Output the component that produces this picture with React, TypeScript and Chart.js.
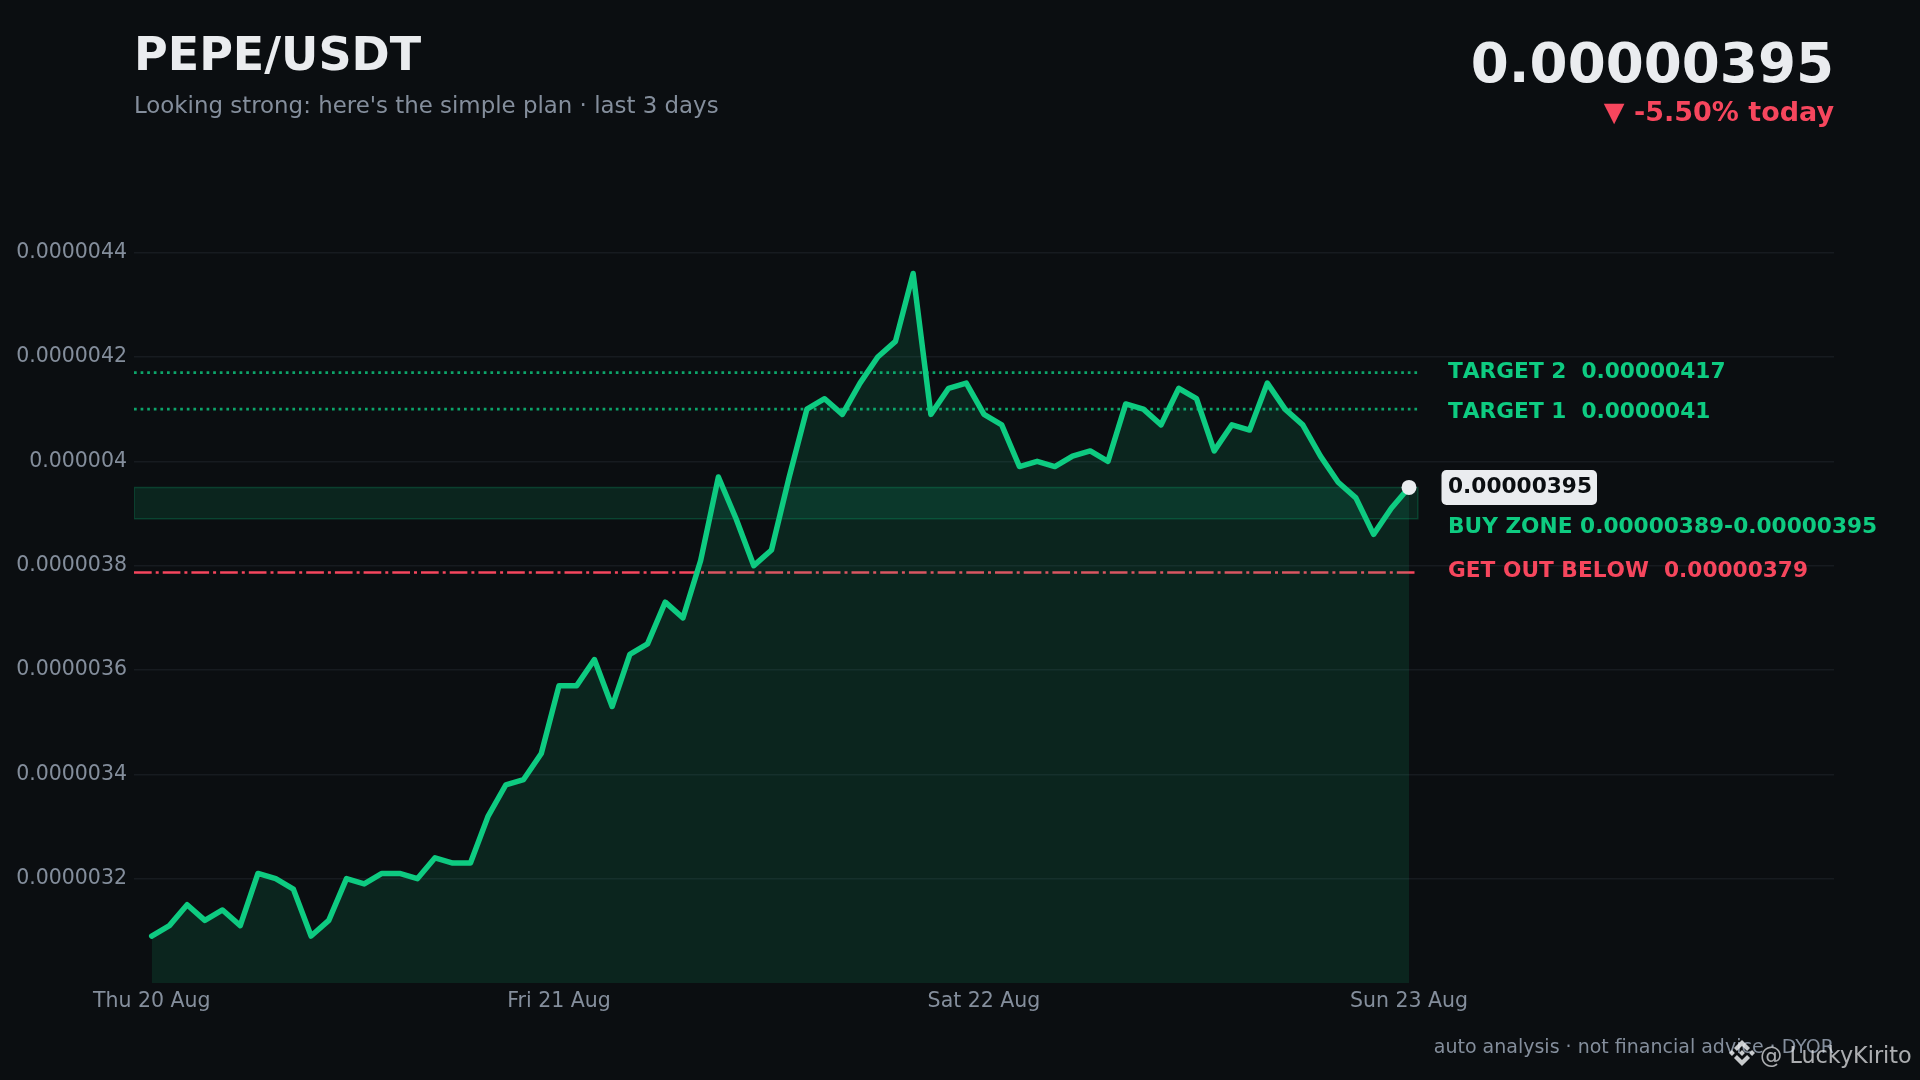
import React, { useEffect, useRef } from "react";
import { Chart, registerables } from "chart.js";

Chart.register(...registerables);

const priceValues = [
  0.00000309, 0.00000311, 0.00000315, 0.00000312, 0.00000314, 0.00000311, 0.00000321, 0.0000032,
  0.00000318, 0.00000309, 0.00000312, 0.0000032, 0.00000319, 0.00000321, 0.00000321, 0.0000032,
  0.00000324, 0.00000323, 0.00000323, 0.00000332, 0.00000338, 0.00000339, 0.00000344, 0.00000357,
  0.00000357, 0.00000362, 0.00000353, 0.00000363, 0.00000365, 0.00000373, 0.0000037, 0.00000381,
  0.00000397, 0.00000389, 0.0000038, 0.00000383, 0.00000397, 0.0000041, 0.00000412, 0.00000409,
  0.00000415, 0.0000042, 0.00000423, 0.00000436, 0.00000409, 0.00000414, 0.00000415, 0.00000409,
  0.00000407, 0.00000399, 0.000004, 0.00000399, 0.00000401, 0.00000402, 0.000004, 0.00000411,
  0.0000041, 0.00000407, 0.00000414, 0.00000412, 0.00000402, 0.00000407, 0.00000406, 0.00000415,
  0.0000041, 0.00000407, 0.00000401, 0.00000396, 0.00000393, 0.00000386, 0.00000391, 0.00000395,
];

const xTickIndexes = [0, 23, 47, 71];
const xTickLabels = ["Thu 20 Aug", "Fri 21 Aug", "Sat 22 Aug", "Sun 23 Aug"];
const yTickValues = [0.0000032, 0.0000034, 0.0000036, 0.0000038, 0.000004, 0.0000042, 0.0000044];
const yTickLabels = ["0.0000032", "0.0000034", "0.0000036", "0.0000038", "0.000004", "0.0000042", "0.0000044"];

const target1 = 0.0000041;
const target2 = 0.00000417;
const stopLevel = 0.000003787;
const zoneLow = 0.00000389;
const zoneHigh = 0.00000395;

const xMin = -1;
const xMax = 95;
const levelEnd = 71.5;
const yMin = 0.000003;
const yMax = 0.0000045;

const BG = "#0b0e11";
const GREEN = "#0ecb81";
const RED = "#f6465d";
const TEXT = "#eaecef";
const MUTED = "#848e9c";
const FONT = "'DejaVu Sans'";

const titleText = "PEPE/USDT";
const subtitleText = "Looking strong: here's the simple plan · last 3 days";
const priceText = "0.00000395";
const changeText = "▼ -5.50% today";
const target2Text = "TARGET 2  0.00000417";
const target1Text = "TARGET 1  0.0000041";
const zoneText = "BUY ZONE 0.00000389-0.00000395";
const stopText = "GET OUT BELOW  0.00000379";
const footerText = "auto analysis · not financial advice · DYOR";
const watermarkText = "@ LuckyKirito";

function drawBinanceLogo(ctx: CanvasRenderingContext2D, x: number, y: number, size: number, color: string) {
  const k = size / 126;
  const shapes = [
    [38.5, 53, 63, 28.6, 87.6, 53, 101.9, 38.7, 63, 0, 24.2, 38.7],
    [0, 63, 14.3, 48.7, 28.6, 63, 14.3, 77.3],
    [48.7, 63, 63, 48.7, 77.3, 63, 63, 77.3],
    [97.4, 63, 111.7, 48.7, 126, 63, 111.7, 77.3],
    [38.5, 73, 63, 97.4, 87.6, 73, 101.9, 87.3, 63, 126, 24.2, 87.3],
  ];
  ctx.fillStyle = color;
  for (const s of shapes) {
    ctx.beginPath();
    for (let i = 0; i < s.length; i += 2) {
      const px = x + s[i] * k;
      const py = y + s[i + 1] * k;
      if (i === 0) ctx.moveTo(px, py);
      else ctx.lineTo(px, py);
    }
    ctx.closePath();
    ctx.fill();
  }
}

const overlayPlugin = {
  id: "overlay",
  afterDraw(chart: any) {
    const { ctx, scales } = chart;
    const labelX = scales.x.getPixelForValue(71) + 39;
    const yPx = (v: number) => scales.y.getPixelForValue(v);
    const text = (s: string, x: number, y: number, font: string, color: string, align: CanvasTextAlign = "left") => {
      ctx.font = font;
      ctx.fillStyle = color;
      ctx.textAlign = align;
      ctx.textBaseline = "alphabetic";
      ctx.fillText(s, x, y);
    };
    ctx.save();
    text(titleText, 134, 70, `bold 46px ${FONT}`, TEXT);
    text(subtitleText, 134, 113, `22.9px ${FONT}`, MUTED);
    text(priceText, 1834, 82, `bold 54.7px ${FONT}`, TEXT, "right");
    text(changeText, 1834, 121, `bold 27px ${FONT}`, RED, "right");

    ctx.fontKerning = "none";
    const lf = `bold 21.7px ${FONT}`;
    text(target2Text, labelX, yPx(target2) + 5.3, lf, GREEN);
    text(target1Text, labelX, yPx(target1) + 8.5, lf, GREEN);

    const by = yPx(zoneHigh);
    ctx.font = lf;
    ctx.fillStyle = TEXT;
    ctx.beginPath();
    ctx.roundRect(labelX - 6.5, by - 17.5, 155.5, 35, 5);
    ctx.fill();
    text(priceText, labelX, by + 5.3, lf, BG);

    text(zoneText, labelX, yPx(zoneLow) + 14, lf, GREEN);
    text(stopText, labelX, yPx(stopLevel) + 4.5, lf, RED);
    ctx.fontKerning = "auto";

    text(footerText, 1834, 1053, `19px ${FONT}`, MUTED, "right");
    drawBinanceLogo(ctx, 1729, 1040, 26, "rgba(234,236,239,0.85)");
    text(watermarkText, 1760, 1063, `22.3px ${FONT}`, "rgba(234,236,239,0.72)");
    ctx.restore();
  },
};

export default function App() {
  const ref = useRef<HTMLCanvasElement | null>(null);

  useEffect(() => {
    if (!ref.current) return;
    const level = (v: number) => [
      { x: xMin, y: v },
      { x: levelEnd, y: v },
    ];
    const chart = new Chart(ref.current, {
      type: "line",
      data: {
        datasets: [
          {
            label: "Last",
            data: [{ x: 71, y: priceValues[71] }],
            showLine: false,
            pointRadius: 7.5,
            pointBackgroundColor: TEXT,
            pointBorderWidth: 0,
          },
          {
            label: "PEPE/USDT",
            data: priceValues.map((y, x) => ({ x, y })),
            borderColor: GREEN,
            borderWidth: 5.5,
            borderJoinStyle: "round",
            borderCapStyle: "round",
            pointRadius: 0,
            tension: 0,
            fill: "start",
            backgroundColor: "rgba(14,203,129,0.12)",
          },
          {
            label: "Stop",
            data: level(stopLevel),
            borderColor: RED,
            borderWidth: 2.6,
            borderDash: [17.7, 4, 3, 4],
            pointRadius: 0,
            fill: false,
          },
          {
            label: "Target 1",
            data: level(target1),
            borderColor: "rgba(14,203,129,0.8)",
            borderWidth: 2.6,
            borderDash: [2.7, 3.9],
            pointRadius: 0,
            fill: false,
          },
          {
            label: "Target 2",
            data: level(target2),
            borderColor: "rgba(14,203,129,0.8)",
            borderWidth: 2.6,
            borderDash: [2.7, 3.9],
            pointRadius: 0,
            fill: false,
          },
          {
            label: "Buy zone",
            data: [
              { x: xMin, y: zoneHigh },
              { x: levelEnd, y: zoneHigh },
              { x: levelEnd, y: zoneLow },
              { x: xMin, y: zoneLow },
              { x: xMin, y: zoneHigh },
            ],
            borderColor: "rgba(14,203,129,0.22)",
            borderWidth: 1.5,
            pointRadius: 0,
            fill: "shape",
            backgroundColor: "rgba(14,203,129,0.12)",
          },
        ],
      } as any,
      options: {
        responsive: false,
        animation: false,
        devicePixelRatio: 1,
        layout: { padding: { top: 200.5, right: 86, left: 0, bottom: 0 } },
        plugins: { legend: { display: false }, tooltip: { enabled: false }, title: { display: false } },
        scales: {
          x: {
            type: "linear",
            min: xMin,
            max: xMax,
            grid: { display: false },
            border: { display: false },
            afterBuildTicks: (s: any) => {
              s.ticks = xTickIndexes.map((value) => ({ value }));
            },
            afterFit: (s: any) => {
              s.height = 97;
            },
            ticks: {
              color: MUTED,
              font: { family: FONT, size: 20.5 },
              padding: -2,
              autoSkip: false,
              maxRotation: 0,
              callback: (_v: any, i: number) => xTickLabels[i],
            },
          },
          y: {
            type: "linear",
            min: yMin,
            max: yMax,
            grid: { color: "#171b20", lineWidth: 1.5, drawTicks: false },
            border: { display: false },
            afterBuildTicks: (s: any) => {
              s.ticks = yTickValues.map((value) => ({ value }));
            },
            afterFit: (s: any) => {
              s.width = 134;
            },
            ticks: {
              color: MUTED,
              font: { family: FONT, size: 20.5 },
              padding: 7,
              autoSkip: false,
              callback: (_v: any, i: number) => yTickLabels[i],
            },
          },
        },
      } as any,
      plugins: [overlayPlugin],
    });
    return () => chart.destroy();
  }, []);

  return (
    <div style={{ position: "fixed", left: 0, top: 0, width: 1920, height: 1080, background: BG }}>
      <canvas ref={ref} width={1920} height={1080} style={{ display: "block", width: 1920, height: 1080 }} />
    </div>
  );
}
